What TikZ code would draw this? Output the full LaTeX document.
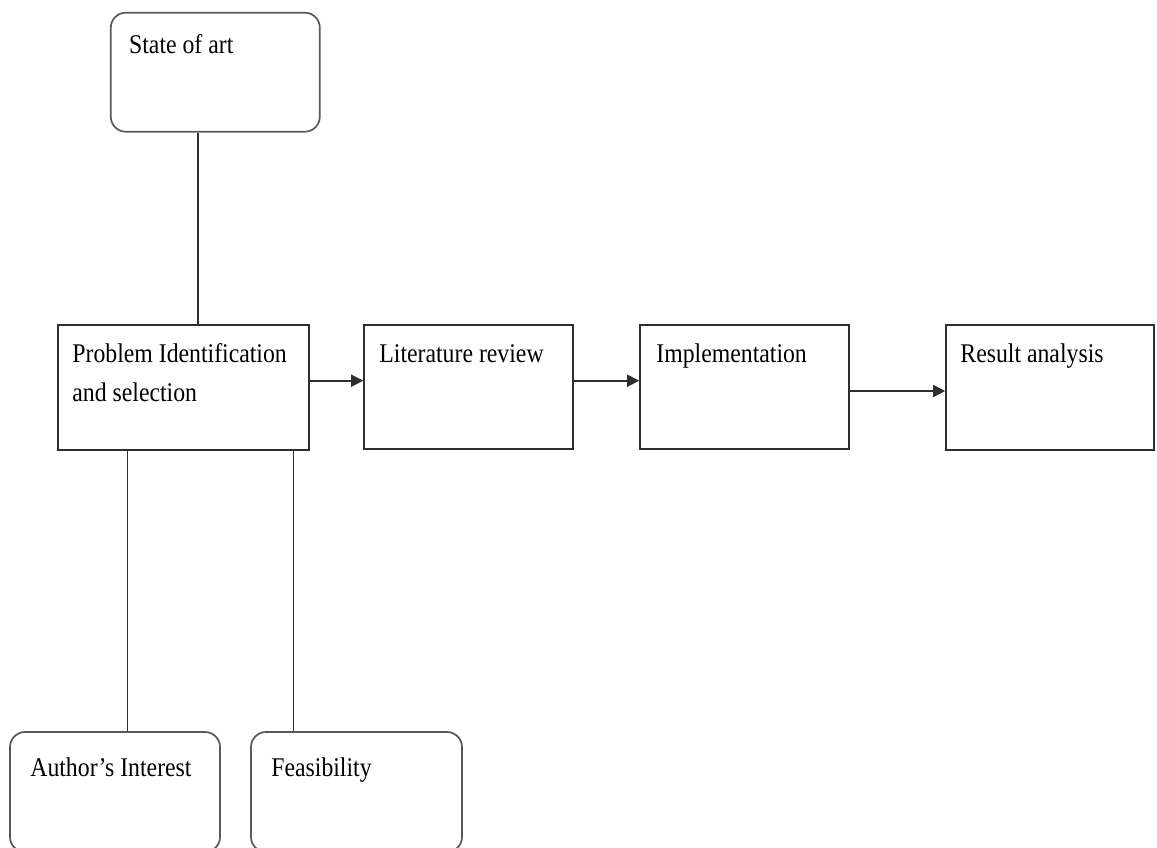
\documentclass[tikz,border=0pt]{standalone}
\usepackage{fontspec}
\setmainfont[FakeStretch=0.88]{Liberation Serif}
\usetikzlibrary{arrows.meta}
\begin{document}
\begin{tikzpicture}[x=1pt,y=-1pt,
  edge/.style={draw=black!82,line width=1.6pt},
  sqbox/.style={draw=black!82,line width=1.6pt,rectangle,inner sep=0pt},
  rbox/.style={draw=black!65,line width=1.7pt,rectangle,rounded corners=15pt,inner sep=0pt},
  txt/.style={anchor=base west,inner sep=0pt,font=\fontsize{27}{39}\selectfont,text=black},
  arr/.style={edge,-{Triangle[length=12pt,width=12pt]}}]
\clip (0,0) rectangle (1157,848);
\fill[white] (0,0) rectangle (1157,848);
% boxes
\node[rbox,minimum width=209pt,minimum height=119pt] (soa) at (215.3,72.2) {};
\node[sqbox,minimum width=251pt,minimum height=125pt] (pi) at (183.5,387.5) {};
\node[sqbox,minimum width=209pt,minimum height=124pt] (lr) at (468.5,387) {};
\node[sqbox,minimum width=209pt,minimum height=124pt] (im) at (744.5,387) {};
\node[sqbox,minimum width=208pt,minimum height=125pt] (ra) at (1050,387.5) {};
\node[rbox,minimum width=210pt,minimum height=120pt] (ai) at (115,792) {};
\node[rbox,minimum width=211pt,minimum height=120pt] (fe) at (356.5,792) {};
% texts
\node[txt] (t1) at ([xshift=19pt,yshift=-42pt]soa.north west) {State of art};
\node[txt] (t2) at ([xshift=15pt,yshift=-38pt]pi.north west) {\begin{tabular}[t]{@{}l@{}}Problem Identification\\and selection\end{tabular}};
\node[txt] (t3) at ([xshift=16pt,yshift=-38pt]lr.north west) {Literature review};
\node[txt] (t4) at ([xshift=17pt,yshift=-38pt]im.north west) {Implementation};
\node[txt] (t5) at ([xshift=15pt,yshift=-38pt]ra.north west) {Result analysis};
\node[txt] (t6) at ([xshift=21pt,yshift=-45pt]ai.north west) {Author’s Interest};
\node[txt] (t7) at ([xshift=21pt,yshift=-45pt]fe.north west) {Feasibility};
% connectors
\coordinate (x1) at (198,0);
\coordinate (x2) at (127.5,0);
\coordinate (x3) at (293.5,0);
\coordinate (y1) at (0,380.7);
\coordinate (y2) at (0,391);
\draw[edge] (soa.south -| x1) -- (pi.north -| x1);
\draw[edge] (pi.south -| x2) -- (ai.north -| x2);
\draw[edge] (pi.south -| x3) -- (fe.north -| x3);
\draw[arr] (pi.east |- y1) -- (lr.west |- y1);
\draw[arr] (lr.east |- y1) -- (im.west |- y1);
\draw[arr] (im.east |- y2) -- (ra.west |- y2);
\end{tikzpicture}
\end{document}
